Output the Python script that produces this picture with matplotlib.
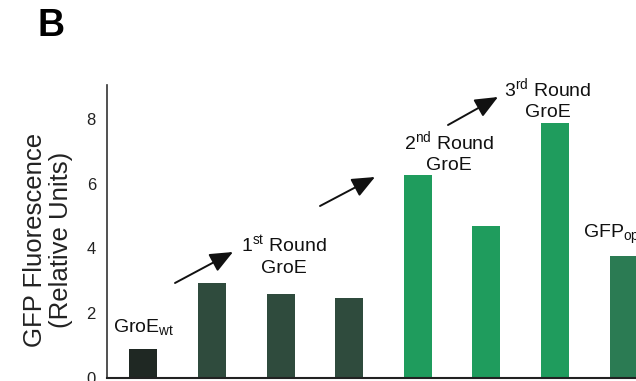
import numpy as np
import matplotlib.pyplot as plt

plt.rcParams['font.family'] = ['Liberation Sans', 'DejaVu Sans']
plt.rcParams['mathtext.fontset'] = 'custom'
plt.rcParams['mathtext.rm'] = 'Liberation Sans'
plt.rcParams['mathtext.it'] = 'Liberation Sans'

# fluorescence of each strain, relative units
strains = ['GroE wt', 'R1 a', 'R1 b', 'R1 c', 'R2 a', 'R2 b', 'R3', 'GFP opt']
fluorescence = [0.9, 2.93, 2.6, 2.48, 6.27, 4.7, 7.88, 3.77]
bar_colors = ['#1f2823', '#2f4b3d', '#2f4b3d', '#2f4b3d',
              '#1f9c5d', '#1f9c5d', '#1f9c5d', '#2b7b53']
y_ticks = [0, 2, 4, 6, 8]

W, H = 636, 381
fig = plt.figure(figsize=(W / 100, H / 100), dpi=100)
ax = fig.add_axes([107 / W, 3 / H, 529 / W, 293 / H])


def px(x, y):
    # pixel position measured from the top-left corner -> figure fraction
    return (x / W, 1 - y / H)


x = np.arange(len(strains))
ax.bar(x, fluorescence, width=0.41, color=bar_colors)

ax.set_xlim(-0.53, 7.18)
ax.set_ylim(0, 9.05)
ax.set_yticks(y_ticks)
ax.tick_params(axis='y', length=0, pad=8, labelsize=12, labelcolor='#222222')
ax.set_xticks([])
for side in ['top', 'right']:
    ax.spines[side].set_visible(False)
ax.spines['left'].set_color('#333333')
ax.spines['left'].set_linewidth(1.2)
ax.spines['bottom'].set_color('#222222')
ax.spines['bottom'].set_linewidth(1.5)

fig.text(*px(48, 240), 'GFP Fluorescence\n(Relative Units)', fontsize=18.5,
         rotation=90, linespacing=1.15, ha='center', va='center', color='#222222')

# group labels
lab = dict(fontsize=14, color='#111111', ha='center', va='center', linespacing=1.3)
fig.text(*px(144, 327), r'GroE$_{\mathrm{wt}}$', **lab)
fig.text(*px(284, 256), '1$^{\\mathrm{st}}$ Round\nGroE', **lab)
fig.text(*px(449, 152), '2$^{\\mathrm{nd}}$ Round\nGroE', **lab)
fig.text(*px(548, 99), '3$^{\\mathrm{rd}}$ Round\nGroE', **lab)
fig.text(*px(583, 234), r'GFP$_{\mathrm{opt}}$', fontsize=14, color='#111111',
         ha='left', va='center')

# arrows between rounds
arrow = dict(arrowstyle='-|>,head_length=1.4,head_width=0.6', color='#111111',
             lw=1.4, shrinkA=0, shrinkB=0)
for tail, tip in [((175, 283), (233, 252)),
                  ((320, 206), (375, 177)),
                  ((448, 125), (498, 97))]:
    fig.add_artist(plt.Annotation('', xy=px(*tip), xytext=px(*tail),
                                  xycoords='figure fraction',
                                  textcoords='figure fraction',
                                  arrowprops=arrow))

fig.text(*px(38, 26), 'B', fontsize=27, fontweight='bold', ha='left', va='center')

fig.savefig('out.png', dpi=100)
